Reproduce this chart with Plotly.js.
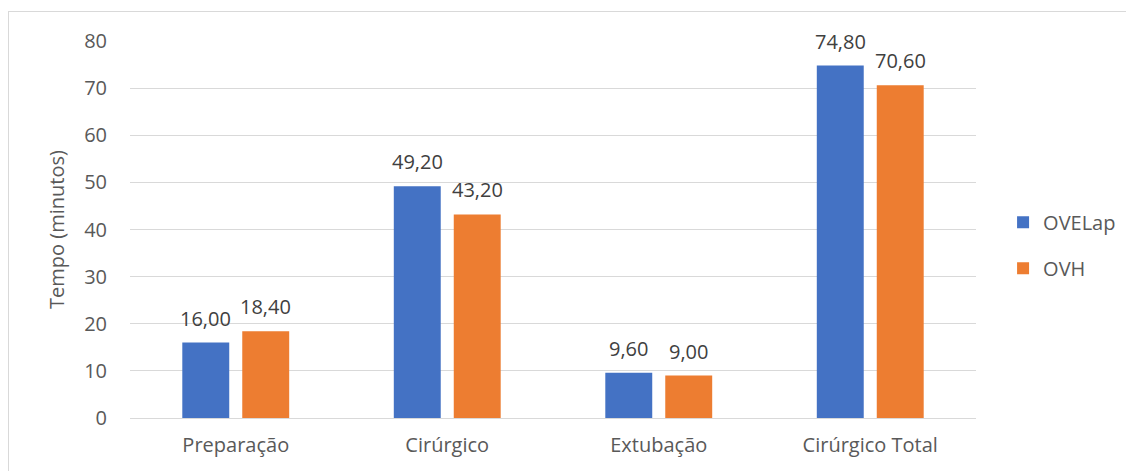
<!DOCTYPE html>
<html>
<head>
<meta charset="utf-8">
<script src="https://cdn.plot.ly/plotly-3.0.1.min.js"></script>
<style>
  html, body { margin: 0; padding: 0; background: #ffffff; }
  #wrap { position: relative; width: 1126px; height: 471px; overflow: hidden; }
  #chart { width: 1126px; height: 471px; }
  #frame {
    position: absolute; left: 8px; top: 11px; width: 1130px; height: 480px;
    border-top: 1px solid #d9d9d9; border-left: 1px solid #d9d9d9;
    pointer-events: none;
  }
</style>
</head>
<body>
<div id="wrap">
  <div id="chart"></div>
  <div id="frame"></div>
</div>
<script>
// Tempo médio por etapa (minutos)
const categories = ['Preparação', 'Cirúrgico', 'Extubação', 'Cirúrgico Total'];
const ovelap = [16.00, 49.20, 9.60, 74.80];
const ovh = [18.40, 43.20, 9.00, 70.60];
const yTicks = [0, 10, 20, 30, 40, 50, 60, 70, 80];

const fmt = v => v.toFixed(2).replace('.', ',');
const font = '"Open Sans", "Noto Sans", "Liberation Sans", sans-serif';
const grey = '#595959';

const series = [
  { name: 'OVELap', values: ovelap, color: '#4472C4', shift: -30 },
  { name: 'OVH', values: ovh, color: '#ED7D31', shift: 30 }
];

const traces = series.map((s, i) => ({
  type: 'bar', name: s.name, legendgroup: 'g' + i,
  x: categories, y: s.values,
  marker: { color: s.color },
  hoverinfo: 'x+y+name'
}));

// value labels sitting a little above each bar
const annotations = [];
series.forEach(s => {
  s.values.forEach((v, j) => {
    annotations.push({
      x: categories[j], y: v, xref: 'x', yref: 'y',
      text: fmt(v), showarrow: false,
      xanchor: 'center', yanchor: 'bottom',
      xshift: s.shift, yshift: 9,
      font: { family: font, size: 20, color: '#404040' }
    });
  });
});

const layout = {
  width: 1126, height: 471,
  margin: { l: 130, r: 150, t: 41, b: 53, autoexpand: false },
  paper_bgcolor: '#ffffff', plot_bgcolor: '#ffffff',
  font: { family: font, size: 20, color: grey },
  barmode: 'group',
  bargap: 0.433,
  bargroupgap: 0.217,
  xaxis: {
    type: 'category',
    showgrid: false, showline: false, zeroline: false,
    ticks: '', ticklen: 0,
    ticklabelstandoff: 13,
    tickfont: { family: font, size: 20, color: grey }
  },
  yaxis: {
    range: [0, 80],
    tickvals: yTicks,
    ticktext: yTicks.map(String),
    showgrid: true, gridcolor: '#d9d9d9', gridwidth: 1,
    zeroline: true, zerolinecolor: '#d9d9d9', zerolinewidth: 1,
    showline: false, ticks: '',
    ticklabelstandoff: 22,
    tickfont: { family: font, size: 20, color: grey },
    title: { text: 'Tempo (minutos)', font: { family: font, size: 20, color: grey }, standoff: 14 }
  },
  legend: {
    x: 1.032, xanchor: 'left', y: 0.458, yanchor: 'middle',
    traceorder: 'grouped', tracegroupgap: 17,
    font: { family: font, size: 20, color: grey },
    itemwidth: 30
  },
  annotations: annotations,
  showlegend: true
};

Plotly.newPlot('chart', traces, layout, { displayModeBar: false, staticPlot: true });
</script>
</body>
</html>
